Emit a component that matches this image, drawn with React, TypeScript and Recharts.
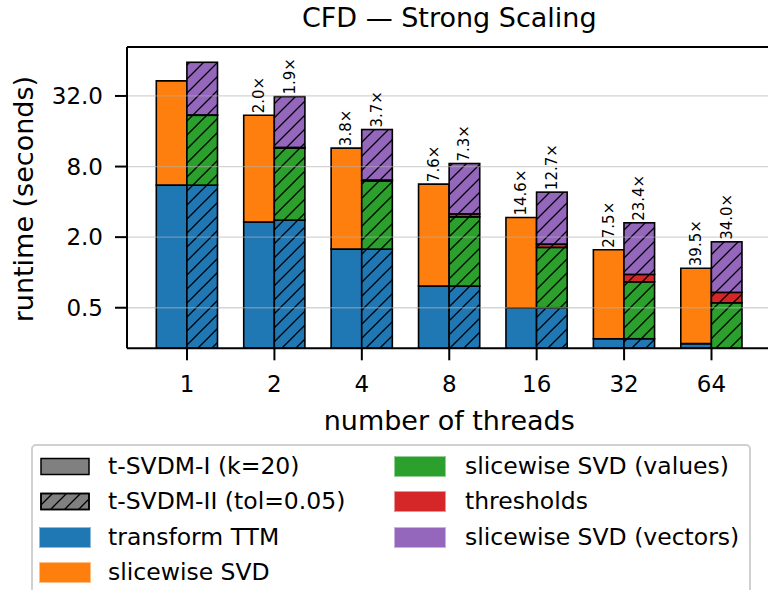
import React from "react";
import { BarChart, Bar, XAxis, YAxis, ReferenceLine, LabelList } from "recharts";

// ---- data (seconds) ----
const threads = ["1", "2", "4", "8", "16", "32", "64"];
// t-SVDM-I (k=20)
const ttmI = [5.55, 2.69, 1.58, 0.765, 0.5, 0.272, 0.247];
const svdI = [37.5, 19.2, 9.9, 4.9, 2.44, 1.29, 0.84];
// t-SVDM-II (tol=0.05)
const ttmII = [5.55, 2.79, 1.58, 0.765, 0.5, 0.272, 0.2];
const valuesII = [16.35, 8.71, 4.46, 2.215, 1.135, 0.56, 0.351];
const thresholdsII = [0.15, 0.15, 0.1, 0.18, 0.11, 0.13, 0.125];
const vectorsII = [39.95, 19.95, 10.41, 5.33, 3.095, 1.688, 1.148];
// speedup labels
const speedupI = [null, 2.0, 3.8, 7.6, 14.6, 27.5, 39.5];
const speedupII = [null, 1.9, 3.7, 7.3, 12.7, 23.4, 34.0];
// axis
const yTicks = [0.5, 2, 8, 32];
const yDomain = [0.2254, 83.7];

const BLUE = "#1f77b4";
const ORANGE = "#ff7f0e";
const GREEN = "#2ca02c";
const RED = "#d62728";
const PURPLE = "#9467bd";
const FONT = "DejaVu Sans";
const EDGE = 1.6;

const data = threads.map((t, i) => ({
  t,
  ttmI: ttmI[i],
  svdI: svdI[i],
  ttmII: ttmII[i],
  valII: valuesII[i],
  thrII: thresholdsII[i],
  vecII: vectorsII[i],
  spI: speedupI[i],
  spII: speedupII[i],
}));

const legendCol1 = [
  { name: "t-SVDM-I (k=20)", kind: "solid" },
  { name: "t-SVDM-II (tol=0.05)", kind: "hatch" },
  { name: "transform TTM", kind: "color", color: BLUE },
  { name: "slicewise SVD", kind: "color", color: ORANGE },
];
const legendCol2 = [
  { name: "slicewise SVD (values)", kind: "color", color: GREEN },
  { name: "thresholds", kind: "color", color: RED },
  { name: "slicewise SVD (vectors)", kind: "color", color: PURPLE },
];

const hatchShape = (color: string) => (props: any) => {
  const { x, y, width, height } = props;
  const X = Number(x), Y = Number(y), W = Number(width), H = Number(height);
  if (!isFinite(X) || !isFinite(Y) || !isFinite(W) || !isFinite(H) || H <= 0) return <g />;
  return (
    <g>
      <rect x={X} y={Y} width={W} height={H} fill={color} />
      <rect x={X} y={Y} width={W} height={H} fill="url(#hatchP)" stroke="#000" strokeWidth={EDGE} />
    </g>
  );
};

const SpeedLabel = (props: any) => {
  const { x, y, width, value } = props;
  if (value === null || value === undefined) return null;
  const cx = Number(x) + Number(width) / 2;
  const ty = Number(y) - 2;
  return (
    <text
      x={cx}
      y={ty}
      transform={`rotate(-90 ${cx} ${ty})`}
      textAnchor="start"
      dominantBaseline="central"
      fontSize={15}
      fontFamily={FONT}
      fill="#000"
    >
      {Number(value).toFixed(1)}×
    </text>
  );
};

const LegendPatch = ({ item }: { item: any }) => {
  if (item.kind === "color") {
    return <div style={{ width: 50, height: 19, background: item.color, boxShadow: `0 0 0 1px ${item.color}80` }} />;
  }
  return (
    <svg width={50} height={19} style={{ display: "block" }}>
      <rect x={1} y={1.5} width={48} height={16} fill="#808080" stroke="#000" strokeWidth={1.5} />
      {item.kind === "hatch" && (
        <rect x={1} y={1.5} width={48} height={16} fill="url(#hatchP)" stroke="#000" strokeWidth={1.5} />
      )}
    </svg>
  );
};

const Legend = () => {
  const rowH = 35.2;
  const renderCol = (items: any[], left: number, textLeft: number) =>
    items.map((it, i) => (
      <div
        key={it.name}
        style={{ position: "absolute", left: 0, top: 20.7 - rowH / 2 + i * rowH, height: rowH, width: 700 }}
      >
        <div style={{ position: "absolute", left, top: (rowH - 19) / 2 }}>
          <LegendPatch item={it} />
        </div>
        <div
          style={{
            position: "absolute",
            left: textLeft,
            top: 0,
            height: rowH,
            lineHeight: `${rowH}px`,
            fontSize: 23.5,
            fontFamily: FONT,
            color: "#000",
            whiteSpace: "nowrap",
          }}
        >
          {it.name}
        </div>
      </div>
    ));
  return (
    <div
      style={{
        position: "absolute",
        left: 31,
        top: 444,
        width: 720,
        height: 170,
        border: "2px solid #d0d0d0",
        borderRadius: 5,
        background: "#fff",
        boxSizing: "border-box",
      }}
    >
      {renderCol(legendCol1, 7, 75)}
      {renderCol(legendCol2, 362, 432)}
    </div>
  );
};

export default function App() {
  return (
    <div
      style={{
        position: "absolute",
        left: 0,
        top: 0,
        width: 768,
        height: 590,
        overflow: "hidden",
        background: "#fff",
      }}
    >
      <svg width={0} height={0} style={{ position: "absolute" }}>
        <defs>
          <pattern id="hatchP" patternUnits="userSpaceOnUse" width={14} height={14}>
            <path d="M0,14 L14,0 M-3.5,3.5 L3.5,-3.5 M10.5,17.5 L17.5,10.5" stroke="#000" strokeWidth={1.3} />
          </pattern>
        </defs>
      </svg>
      <BarChart
        width={780}
        height={590}
        data={data}
        margin={{ top: 47, right: 8.5, left: 0, bottom: 141.7 }}
        barGap={0}
        barSize={30.6}
      >
        <XAxis
          dataKey="t"
          height={100}
          padding={{ left: 16.3, right: 16.3 }}
          tickSize={12}
          tickMargin={15}
          axisLine={{ stroke: "#000", strokeWidth: 2 }}
          tickLine={{ stroke: "#000", strokeWidth: 2 }}
          tick={{ fontSize: 23, fontFamily: FONT, fill: "#000" }}
          label={{
            content: (p: any) => {
              const vb = p.viewBox || {};
              return (
                <text
                  x={Number(vb.x) + Number(vb.width) / 2}
                  y={Number(vb.y) + 82}
                  textAnchor="middle"
                  fontSize={27}
                  fontFamily={FONT}
                  fill="#000"
                >
                  number of threads
                </text>
              );
            },
          }}
        />
        <YAxis
          type="number"
          scale="log"
          domain={yDomain}
          allowDataOverflow
          ticks={yTicks}
          interval={0}
          width={127}
          tickSize={12}
          tickMargin={12}
          tickFormatter={(v: number) => v.toFixed(1)}
          axisLine={{ stroke: "#000", strokeWidth: 2 }}
          tickLine={{ stroke: "#000", strokeWidth: 2 }}
          tick={{ fontSize: 23, fontFamily: FONT, fill: "#000" }}
          label={{
            content: (p: any) => {
              const vb = p.viewBox || {};
              const cx = Number(vb.x) + 24;
              const cy = Number(vb.y) + Number(vb.height) / 2 + 1.5;
              return (
                <text
                  x={cx}
                  y={cy}
                  transform={`rotate(-90 ${cx} ${cy})`}
                  textAnchor="middle"
                  dominantBaseline="central"
                  fontSize={27}
                  fontFamily={FONT}
                  fill="#000"
                >
                  runtime (seconds)
                </text>
              );
            },
          }}
        />
        <Bar dataKey="ttmI" stackId="I" fill={BLUE} stroke="#000" strokeWidth={EDGE} isAnimationActive={false} />
        <Bar dataKey="svdI" stackId="I" fill={ORANGE} stroke="#000" strokeWidth={EDGE} isAnimationActive={false}>
          <LabelList dataKey="spI" content={SpeedLabel} />
        </Bar>
        <Bar dataKey="ttmII" stackId="II" fill={BLUE} shape={hatchShape(BLUE)} isAnimationActive={false} />
        <Bar dataKey="valII" stackId="II" fill={GREEN} shape={hatchShape(GREEN)} isAnimationActive={false} />
        <Bar dataKey="thrII" stackId="II" fill={RED} shape={hatchShape(RED)} isAnimationActive={false} />
        <Bar dataKey="vecII" stackId="II" fill={PURPLE} shape={hatchShape(PURPLE)} isAnimationActive={false}>
          <LabelList dataKey="spII" content={SpeedLabel} />
        </Bar>
        {yTicks.map((t) => (
          <ReferenceLine key={t} y={t} stroke="#b0b0b0" strokeOpacity={0.55} strokeWidth={1.3} />
        ))}
        <ReferenceLine
          y={yDomain[1]}
          stroke="#000"
          strokeWidth={2}
          label={{
            content: (p: any) => {
              const vb = p.viewBox || {};
              return (
                <text
                  x={Number(vb.x) + Number(vb.width) / 2}
                  y={27}
                  textAnchor="middle"
                  fontSize={27}
                  fontFamily={FONT}
                  fill="#000"
                >
                  CFD — Strong Scaling
                </text>
              );
            },
          }}
        />
      </BarChart>
      <Legend />
    </div>
  );
}
